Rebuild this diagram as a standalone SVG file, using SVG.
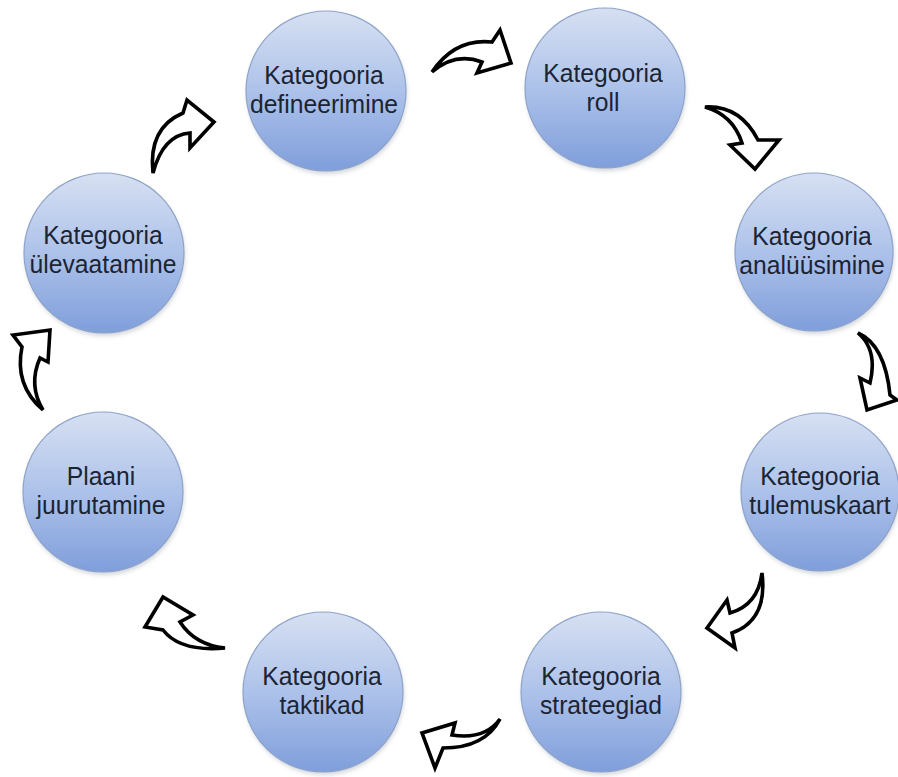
<svg xmlns="http://www.w3.org/2000/svg" width="898" height="777" viewBox="0 0 898 777">
<defs>
<linearGradient id="g" x1="0" y1="0" x2="0" y2="1">
<stop offset="0" stop-color="#d7e0f2"/>
<stop offset="0.5" stop-color="#adc2ea"/>
<stop offset="1" stop-color="#7f9edb"/>
</linearGradient>
<filter id="sh" x="-20%" y="-20%" width="140%" height="140%">
<feGaussianBlur stdDeviation="2"/>
</filter>
</defs>
<style>
.c{fill:url(#g);stroke:#8da3c8;stroke-width:1.2}
.s{fill:#b8bcc4;opacity:0.6;filter:url(#sh)}
.t{font-family:"Liberation Sans",Arial,sans-serif;font-size:26px;fill:#1b2433;text-anchor:middle}
.a{fill:#fff;stroke:#000;stroke-width:3.6;stroke-linejoin:miter}
</style>
<rect width="898" height="777" fill="#fff"/>
<g id="n1"><circle class="s" cx="327" cy="94" r="80"/><circle class="c" cx="326" cy="91" r="80"/><text class="t" transform="translate(324,84) scale(0.95,1)">Kategooria</text><text class="t" transform="translate(324,113) scale(0.95,1)">defineerimine</text></g>
<g id="n2"><circle class="s" cx="606" cy="91" r="80"/><circle class="c" cx="605" cy="88" r="80"/><text class="t" transform="translate(603,82) scale(0.95,1)">Kategooria</text><text class="t" transform="translate(603,111) scale(0.95,1)">roll</text></g>
<g id="n3"><circle class="s" cx="815" cy="255" r="79"/><circle class="c" cx="814" cy="252" r="79"/><text class="t" transform="translate(812,245) scale(0.95,1)">Kategooria</text><text class="t" transform="translate(812,274) scale(0.95,1)">analüüsimine</text></g>
<g id="n4"><circle class="s" cx="821" cy="495" r="79"/><circle class="c" cx="820" cy="492" r="79"/><text class="t" transform="translate(820,485) scale(0.95,1)">Kategooria</text><text class="t" transform="translate(820,514) scale(0.95,1)">tulemuskaart</text></g>
<g id="n5"><circle class="s" cx="602" cy="695" r="80"/><circle class="c" cx="601" cy="692" r="80"/><text class="t" transform="translate(601,685) scale(0.95,1)">Kategooria</text><text class="t" transform="translate(601,714) scale(0.95,1)">strateegiad</text></g>
<g id="n6"><circle class="s" cx="324" cy="695" r="80"/><circle class="c" cx="323" cy="692" r="80"/><text class="t" transform="translate(322,685) scale(0.95,1)">Kategooria</text><text class="t" transform="translate(322,714) scale(0.95,1)">taktikad</text></g>
<g id="n7"><circle class="s" cx="104" cy="495" r="80"/><circle class="c" cx="103" cy="492" r="80"/><text class="t" transform="translate(101,485) scale(0.95,1)">Plaani</text><text class="t" transform="translate(101,514) scale(0.95,1)">juurutamine</text></g>
<g id="n8"><circle class="s" cx="105" cy="256" r="80"/><circle class="c" cx="104" cy="253" r="80"/><text class="t" transform="translate(103,244) scale(0.95,1)">Kategooria</text><text class="t" transform="translate(103,273) scale(0.95,1)">ülevaatamine</text></g>
<g id="connectors">
<path class="a" d="M432,72 Q455,38 492,42 L500,30 L511,63 L477,73 L482,62 Q455,52 432,72 Z"/>
<path class="a" d="M705,107 Q740,105 758,140 L779,140 L755,169 L730,145 L742,143 Q733,115 705,107 Z"/>
<path class="a" d="M858,333 Q885,345 890,395 L897,400 L867,410 L860,378 L870,383 Q878,350 858,333 Z"/>
<path class="a" d="M762,573 Q768,620 732,633 L735,648 L707,628 L727,600 L730,613 Q758,605 762,573 Z"/>
<path class="a" d="M500,719 Q485,748 443,748 L435,768 L422,733 L455,723 L452,735 Q485,740 500,719 Z"/>
<path class="a" d="M225,648 Q180,652 163,630 L145,627 L163,597 L193,615 L180,622 Q195,645 225,648 Z"/>
<path class="a" d="M43,410 Q14,385 22,347 L13,335 L50,330 L48,362 L40,358 Q28,385 43,410 Z"/>
<path class="a" d="M153,173 Q148,128 183,113 L187,100 L214,122 L190,148 L190,133 Q163,135 153,173 Z"/>
</g>
</svg>
